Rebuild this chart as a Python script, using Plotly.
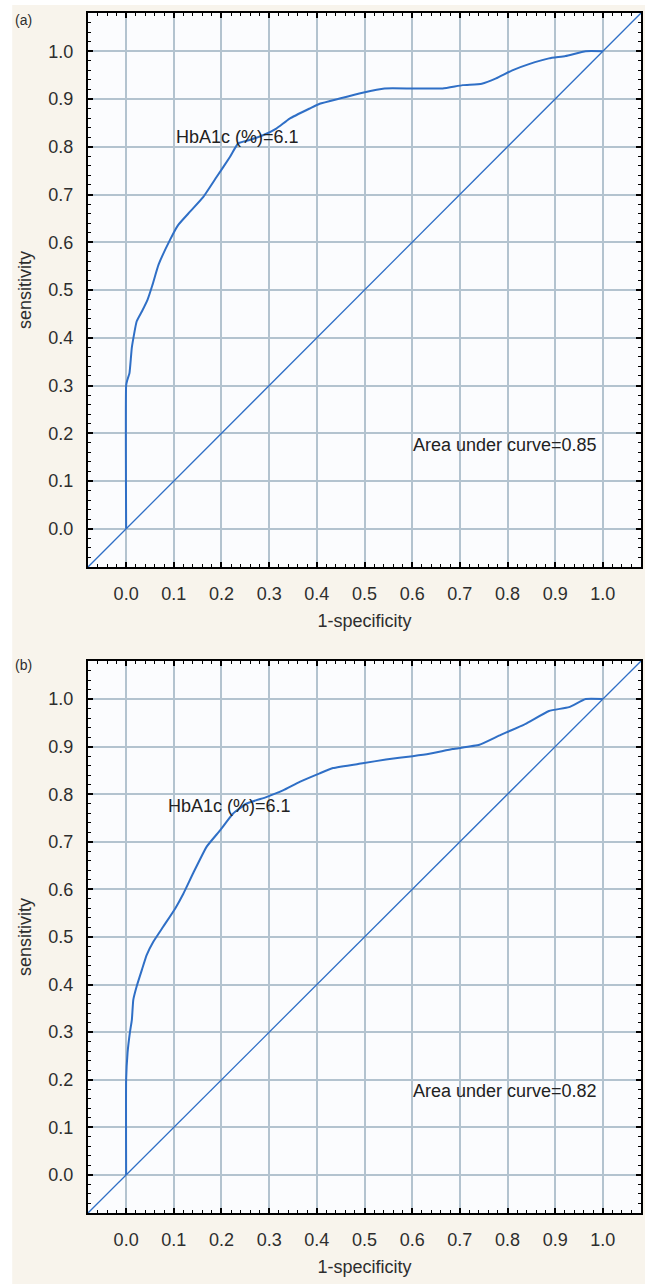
import plotly.graph_objects as go

# ---- data ----
fpr_a = [0, 0, 0.002, 0.007, 0.012, 0.022, 0.033, 0.045, 0.055, 0.068, 0.092, 0.109, 0.134,
         0.162, 0.19, 0.218, 0.235, 0.259, 0.287, 0.315, 0.343, 0.385, 0.406, 0.448, 0.496,
         0.542, 0.6, 0.664, 0.706, 0.746, 0.776, 0.81, 0.845, 0.887, 0.922, 0.964, 1.0]
tpr_a = [0, 0.30, 0.31, 0.326, 0.38, 0.434, 0.455, 0.48, 0.51, 0.553, 0.605, 0.636, 0.664,
         0.695, 0.737, 0.779, 0.807, 0.814, 0.824, 0.838, 0.859, 0.88, 0.89, 0.901, 0.913,
         0.922, 0.922, 0.922, 0.929, 0.932, 0.943, 0.96, 0.973, 0.985, 0.99, 1.0, 1.0]

fpr_b = [0, 0, 0.003, 0.008, 0.012, 0.015, 0.022, 0.033, 0.043, 0.057, 0.078, 0.103, 0.12,
         0.141, 0.169, 0.197, 0.224, 0.252, 0.294, 0.329, 0.364, 0.406, 0.434, 0.496, 0.545,
         0.601, 0.636, 0.685, 0.741, 0.782, 0.838, 0.887, 0.929, 0.964, 1.0]
tpr_b = [0, 0.2, 0.257, 0.3, 0.326, 0.368, 0.396, 0.431, 0.462, 0.49, 0.522, 0.56, 0.591,
         0.635, 0.69, 0.724, 0.759, 0.78, 0.794, 0.808, 0.826, 0.844, 0.855, 0.865, 0.873,
         0.88, 0.885, 0.895, 0.904, 0.923, 0.948, 0.975, 0.983, 1.0, 1.0]

diag = [-0.08, 1.08]

panel_labels = ["(a)", "(b)"]
cutoff_text = "HbA1c (%)=6.1"
auc_texts = ["Area under curve=0.85", "Area under curve=0.82"]
cutoff_pos = [(0.100, 0.82), (0.084, 0.776)]
auc_pos = [(0.598, 0.176), (0.598, 0.176)]
x_title = "1-specificity"
y_title = "sensitivity"

# ---- style ----
CURVE = "#2f6fc6"
GRID = "#b3c3cf"
TXT = "#2e2e2e"
FONT = "Liberation Sans, Arial, sans-serif"
PAPER = "#f8f4ec"
PLOTBG = "#fbfcfe"

fig = go.Figure()
for i, (fx, ty) in enumerate([(fpr_a, tpr_a), (fpr_b, tpr_b)]):
    xa = "x" if i == 0 else "x2"
    ya = "y" if i == 0 else "y2"
    fig.add_trace(go.Scatter(x=diag, y=diag, mode="lines", xaxis=xa, yaxis=ya,
                             line=dict(color=CURVE, width=1.3), showlegend=False, hoverinfo="skip"))
    fig.add_trace(go.Scatter(x=fx, y=ty, mode="lines", xaxis=xa, yaxis=ya,
                             line=dict(color=CURVE, width=2, shape="spline", smoothing=0.4),
                             showlegend=False))

def ax(domain=None, anchor=None, title=None, is_x=True):
    d = dict(
        range=[-0.08, 1.08], tick0=0, dtick=0.1, tickformat=".1f",
        showgrid=True, gridcolor=GRID, gridwidth=1.5, zeroline=False,
        showline=True, linecolor="black", linewidth=2, mirror="allticks",
        ticks="inside", ticklen=5, tickwidth=1.5, tickcolor="black",
        minor=dict(ticks="inside", dtick=0.02, tick0=0, ticklen=3, tickwidth=1, tickcolor="black", showgrid=False),
        tickfont=dict(family=FONT, size=18, color=TXT),
        ticklabelstandoff=9,
        fixedrange=True,
    )
    if domain is not None:
        d["domain"] = domain
    if anchor is not None:
        d["anchor"] = anchor
    if title is not None:
        d["title"] = dict(text=title, font=dict(family=FONT, size=18, color=TXT),
                          standoff=12 if is_x else 12)
    return d

fig.update_layout(
    width=645, height=1284,
    margin=dict(l=88, r=2, t=13, b=71),
    paper_bgcolor=PAPER, plot_bgcolor=PLOTBG,
    xaxis=ax([0, 1], "y", x_title, True),
    yaxis=ax([0.5383, 1], "x", y_title, False),
    xaxis2=ax([0, 1], "y2", x_title, True),
    yaxis2=ax([0, 0.46], "x2", y_title, False),
    showlegend=False,
)

# white border strips of the scanned figure
fig.add_shape(type="rect", xref="paper", yref="paper", x0=-0.2, x1=-0.137, y0=-0.1, y1=1.02,
              fillcolor="white", line_width=0, layer="below")
fig.add_shape(type="rect", xref="paper", yref="paper", x0=-0.2, x1=1.05, y0=1.0067, y1=1.02,
              fillcolor="white", line_width=0, layer="below")

annotations = []
panel_y = [0.9945, 0.4567]
for i in range(2):
    xr = "x" if i == 0 else "x2"
    yr = "y" if i == 0 else "y2"
    annotations.append(dict(text=panel_labels[i], xref="paper", yref="paper",
                            x=-0.116, y=panel_y[i], xanchor="center", yanchor="middle",
                            showarrow=False, font=dict(family=FONT, size=14, color=TXT)))
    annotations.append(dict(text=cutoff_text, xref=xr, yref=yr, x=cutoff_pos[i][0], y=cutoff_pos[i][1],
                            xanchor="left", yanchor="middle", showarrow=False,
                            font=dict(family=FONT, size=18, color="#222222")))
    annotations.append(dict(text=auc_texts[i], xref=xr, yref=yr, x=auc_pos[i][0], y=auc_pos[i][1],
                            xanchor="left", yanchor="middle", showarrow=False,
                            font=dict(family=FONT, size=18, color="#222222")))
fig.update_layout(annotations=annotations)

fig.write_html("out.html", config={"displayModeBar": False},
               post_script="document.body.style.margin='0';document.body.style.overflow='hidden';")
